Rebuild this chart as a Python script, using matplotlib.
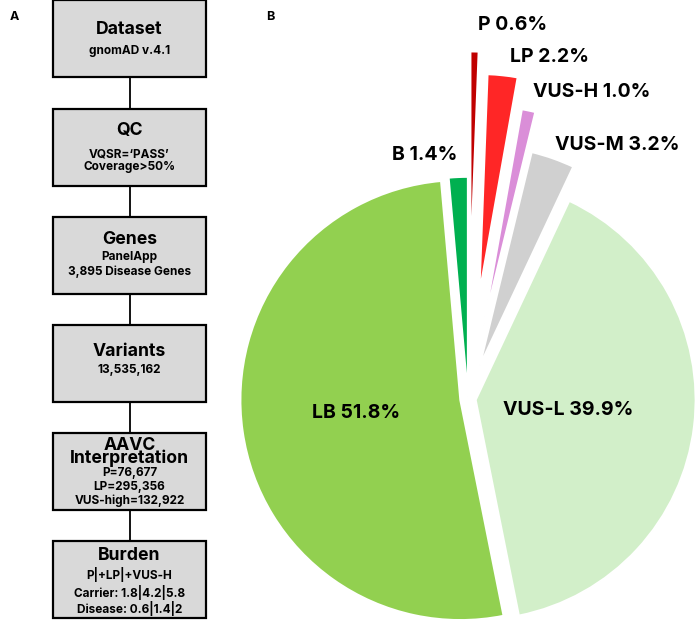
import matplotlib
matplotlib.use("Agg")
import matplotlib.pyplot as plt
from matplotlib.patches import Rectangle

plt.rcParams['font.family'] = ['Inter', 'DejaVu Sans']

# pie data (clockwise from 12 o'clock)
classes = ['P', 'LP', 'VUS-H', 'VUS-M', 'VUS-L', 'LB', 'B']
shares = [0.6, 2.2, 1.0, 3.2, 39.9, 51.8, 1.4]
colors = ['#C00000', '#FF2626', '#DA8ED8', '#D0D0D0', '#D2EFC9', '#92D050', '#00B050']
explode = [0.58, 0.48, 0.34, 0.16, 0.035, 0.035, 0.01]  # fraction of radius

# flowchart boxes
box_titles = ['Dataset', 'QC', 'Genes', 'Variants', 'AAVC\nInterpretation', 'Burden']
box_notes = [
    ['gnomAD v.4.1'],
    ['VQSR=\u2018PASS\u2019', 'Coverage>50%'],
    ['PanelApp', '3,895 Disease Genes'],
    ['13,535,162'],
    ['P=76,677', 'LP=295,356', 'VUS-high=132,922'],
    ['P|+LP|+VUS-H', 'Carrier: 1.8|4.2|5.8', 'Disease: 0.6|1.4|2'],
]

W, H = 700, 622
fig = plt.figure(figsize=(7, 6.22), dpi=100)
ax = fig.add_axes([0, 0, 1, 1])

# ---- panel A: flowchart ----
bx, bw, bh = 53, 153, 77
tops = [0, 109, 217, 325, 433, 541]
# y centres (pixels from top) of the title and of each note line in each box
title_y = [30, 131, 239, 351, 452, 556]
note_y = [[51], [154, 167], [257, 272], [370], [473, 487, 501], [575, 592, 608]]
cx = bx + bw / 2
for i, t in enumerate(tops):
    ax.add_patch(Rectangle((bx, H - t - bh), bw, bh, facecolor='#D9D9D9',
                           edgecolor='black', lw=1.6, zorder=2))
    if i < len(tops) - 1:
        ax.plot([cx, cx], [H - t - bh, H - tops[i + 1]], color='black', lw=1.3, zorder=1)
    ax.text(cx, H - title_y[i], box_titles[i], ha='center', va='center',
            fontsize=12.7, fontweight='bold', linespacing=0.72, zorder=3)
    for s, y in zip(box_notes[i], note_y[i]):
        ax.text(cx, H - y, s, ha='center', va='center', fontsize=8.5,
                fontweight='bold', zorder=3)

ax.text(10, H - 17, 'A', ha='left', va='center', fontsize=9, fontweight='bold')
ax.text(266, H - 17, 'B', ha='left', va='center', fontsize=9, fontweight='bold')

# ---- panel B: exploded pie ----
R = 220
wedges, _ = ax.pie(shares, colors=colors, explode=[e * R for e in explode],
                   startangle=90, counterclock=False, center=(468, H - 399),
                   radius=R, wedgeprops=dict(edgecolor='white', linewidth=1.5))

label_pos = {
    'P': (478, 25), 'LP': (510, 57), 'VUS-H': (533, 92), 'VUS-M': (555, 145),
    'B': (392, 155), 'LB': (312, 413), 'VUS-L': (503, 410),
}
for name, val in zip(classes, shares):
    x, y = label_pos[name]
    ax.text(x, H - y, f'{name} {val:.1f}%', ha='left', va='center',
            fontsize=14, fontweight='bold')

ax.set_xlim(0, W)
ax.set_ylim(0, H)
ax.set_aspect('equal')
ax.axis('off')

fig.savefig('out.png', dpi=100)
